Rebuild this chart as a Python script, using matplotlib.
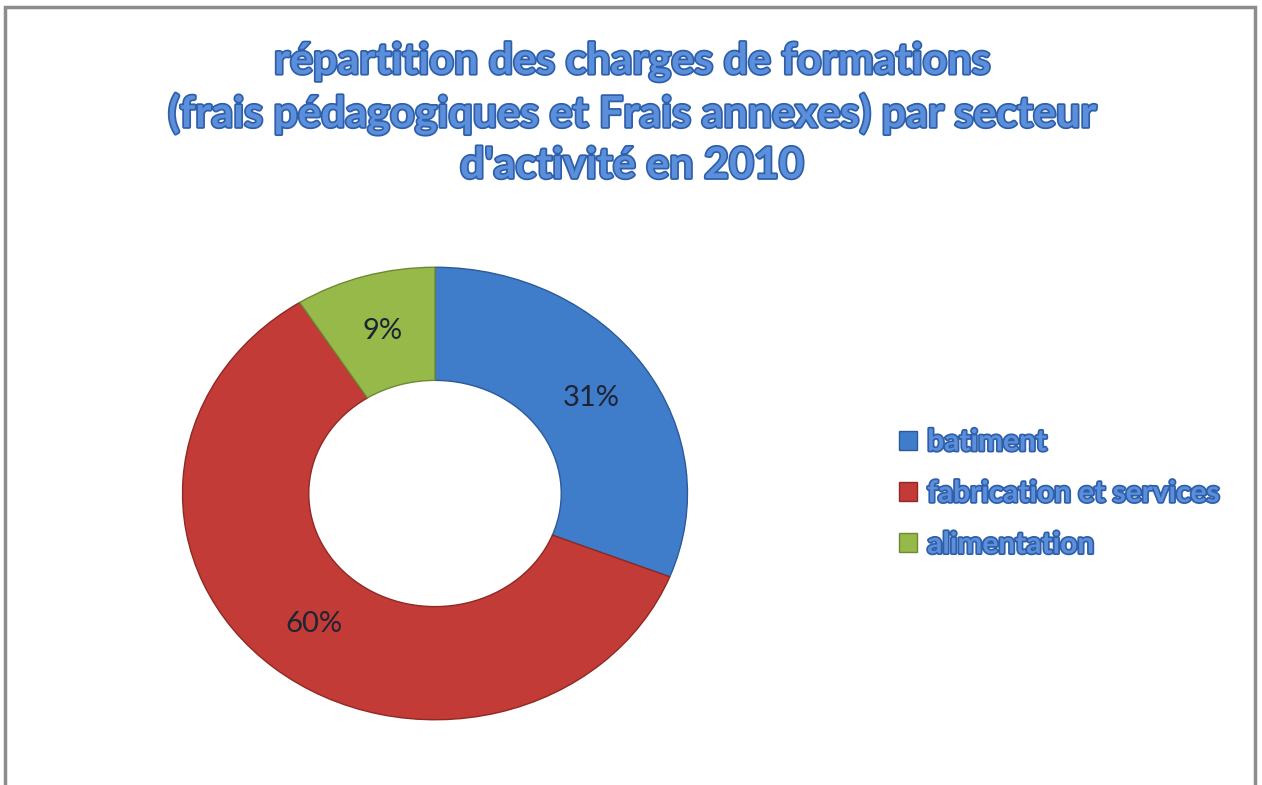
import matplotlib.pyplot as plt
import matplotlib.patheffects as pe
from matplotlib.patches import Rectangle

# Data
sectors = ["batiment", "fabrication et services", "alimentation"]
shares = [31, 60, 9]
colors = ["#3F7DCB", "#C33B36", "#97B94A"]
edge_colors = ["#2C5A98", "#8E2925", "#6D8A33"]

title = ("répartition des charges de formations\n"
         "(frais pédagogiques et Frais annexes) par secteur\n"
         "d'activité en 2010")

W, H = 1262, 785
fig = plt.figure(figsize=(W / 100, H / 100), dpi=100)
fig.patch.set_facecolor("white")

# donut axes (slightly flattened, as in the original)
ax = fig.add_axes([180 / W, 1 - 722 / H, 510 / W, 457 / H])
wedges, texts, autotexts = ax.pie(
    shares, colors=colors, startangle=90, counterclock=False,
    autopct="%1.0f%%", pctdistance=0.75,
    wedgeprops=dict(width=0.5, linewidth=1.0),
    textprops=dict(fontsize=21, family="Lato", color="#1E2433"),
)
for w, ec in zip(wedges, edge_colors):
    w.set_edgecolor(ec)
ax.set_aspect("auto")
ax.set_xlim(-1.01, 1.01)
ax.set_ylim(-1.01, 1.01)
ax.axis("off")

# title with outlined look
outline = [pe.withStroke(linewidth=2.5, foreground="#2E5FA8")]
fig.text(632 / W, 1 - 113 / H, title, ha="center", va="center",
         fontsize=31, fontweight="bold", family="Lato", color="#5B8EDB",
         linespacing=1.32, path_effects=outline)

# legend
leg = fig.legend(wedges, sectors, loc="center left",
                 bbox_to_anchor=(872 / W, 1 - 493 / H), frameon=False,
                 handlelength=0.6, handleheight=0.6, handletextpad=0.35,
                 labelspacing=0.78, prop=dict(family="Lato", weight="bold", size=21.5))
for t in leg.get_texts():
    t.set_color("#5B8EDB")
    t.set_path_effects([pe.withStroke(linewidth=2.5, foreground="#2E5FA8")])

# gray frame around the chart
fig.patches.append(Rectangle((5 / W, -0.05), 1250 / W, 1.05 - 7 / H,
                             transform=fig.transFigure, fill=False,
                             edgecolor="#8C8C8C", linewidth=2.5))

fig.savefig("out.png", dpi=100)
